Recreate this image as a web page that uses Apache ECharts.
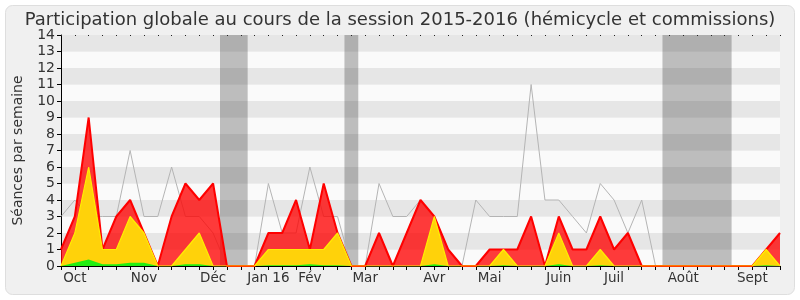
<!DOCTYPE html>
<html><head><meta charset="utf-8">
<script src="https://cdn.jsdelivr.net/npm/echarts@6/dist/echarts.min.js"></script>
<style>html,body{margin:0;padding:0;background:#fff}#c{width:800px;height:300px}</style>
</head><body><div id="c"></div>
<script>
// weekly data, 53 weeks (Sept 2015 -> Sept 2016)
const weeks = Array.from({length: 53}, (_, i) => i);
const totalSessions = [1,3,9,1,3,4,2,0,3,5,4,5,0,0,0,2,2,4,1,5,2,0,0,2,0,2,4,3,1,0,0,1,1,1,3,0,3,1,1,3,1,2,0,0,0,0,0,0,0,0,0,1,2];
const yellowSessions = [0,2,6,1,1,3,2,0,0,1,2,0,0,0,0,1,1,1,1,1,2,0,0,0,0,0,0,3,0,0,0,0,1,0,0,0,2,0,0,1,0,0,0,0,0,0,0,0,0,0,0,1,0];
const greenSessions = [0,0.2,0.4,0.1,0.1,0.2,0.2,0,0,0.1,0.1,0,0,0,0,0.05,0.05,0.05,0.1,0.05,0.05,0,0,0,0,0,0,0.1,0,0,0,0,0.05,0,0,0,0.1,0,0,0.05,0,0,0,0,0,0,0,0,0,0,0,0.05,0];
const medianLine = [3,4,3,3,3,7,3,3,6,3,3,2,0,0,0,5,2,2,6,3,3,0,0,5,3,3,4,3,1,0,4,3,3,3,11,4,4,3,2,5,4,2,4,0,0,0,0,0,0,0,0,0,0];
const monthLabels = ['Oct','Nov','Déc','Jan 16','Fév','Mar','Avr','Mai','Juin','Juil','Août','Sept'];
const monthWeek = [1,6,11,15,18,22,27,31,36,40,45,50];
const vacations = [[11.5,13.5],[20.5,21.5],[43.5,48.5]];
const yTicks = [0,1,2,3,4,5,6,7,8,9,10,11,12,13,14];

const chart = echarts.init(document.getElementById('c'), null, {renderer:'canvas'});
const font = 'DejaVu Sans';
const labelMap = {};
monthWeek.forEach((w,i)=>{labelMap[w]=monthLabels[i];});

chart.setOption({
  animation:false,
  backgroundColor:'#ffffff',
  graphic:[{type:'rect',z:-10,shape:{x:5.5,y:5.5,width:789,height:289,r:7},style:{fill:'#f0f0f0',stroke:'#dedede',lineWidth:1}}],
  title:{text:'Participation globale au cours de la session 2015-2016 (hémicycle et commissions)',left:'center',top:6,
    textStyle:{fontFamily:font,fontSize:18,fontWeight:'normal',color:'#333'}},
  grid:{left:61,right:20,top:35,bottom:34,show:false},
  xAxis:[{
    type:'category',data:weeks,boundaryGap:false,
    axisLine:{lineStyle:{color:'#000',width:1}},
    axisTick:{show:true,interval:0,length:4,lineStyle:{color:'#000'}},
    axisLabel:{interval:0,hideOverlap:false,margin:5,fontFamily:font,fontSize:13.5,color:'#333',
      formatter:(v)=>labelMap[v]||''},
    splitLine:{show:false}
  },{
    type:'value',min:0,max:52,interval:1,position:'top',
    axisLine:{show:false},axisLabel:{show:false},splitLine:{show:false},
    axisTick:{show:true,inside:true,length:1,lineStyle:{color:'#222'}}
  }],
  yAxis:{
    type:'value',min:0,max:14,interval:1,
    name:'Séances par semaine',nameLocation:'middle',nameRotate:90,nameGap:36,
    nameTextStyle:{fontFamily:font,fontSize:14,color:'#333'},
    axisLine:{show:true,lineStyle:{color:'#000'}},
    axisTick:{show:true,length:4,lineStyle:{color:'#000'}},
    axisLabel:{fontFamily:font,fontSize:14,color:'#333',margin:6,formatter:(v)=>yTicks.includes(v)?String(v):''},
    splitLine:{show:false},
    splitArea:{show:true,areaStyle:{color:['#fafafa','#e6e6e6']}}
  },
  series:[
    {type:'line',xAxisIndex:1,data:[],silent:true,z:1,
      markArea:{silent:true,itemStyle:{color:'rgba(50,50,50,0.3)'},
        data:vacations.map(v=>[{xAxis:v[0]},{xAxis:v[1]}])}},
    {type:'line',data:medianLine,symbol:'none',z:2,lineStyle:{color:'#b4b4b4',width:1}},
    {type:'line',data:totalSessions,symbol:'none',z:3,lineStyle:{color:'#ff0000',width:2},
      areaStyle:{color:'rgba(255,0,0,0.77)',opacity:1}},
    {type:'line',data:yellowSessions,symbol:'none',z:4,lineStyle:{color:'#ffee00',width:1.2},
      areaStyle:{color:'#ffd20a',opacity:1}},
    {type:'line',data:greenSessions,symbol:'none',z:5,lineStyle:{width:0},
      areaStyle:{color:'#22ee11',opacity:1}}
  ]
});
</script></body></html>
